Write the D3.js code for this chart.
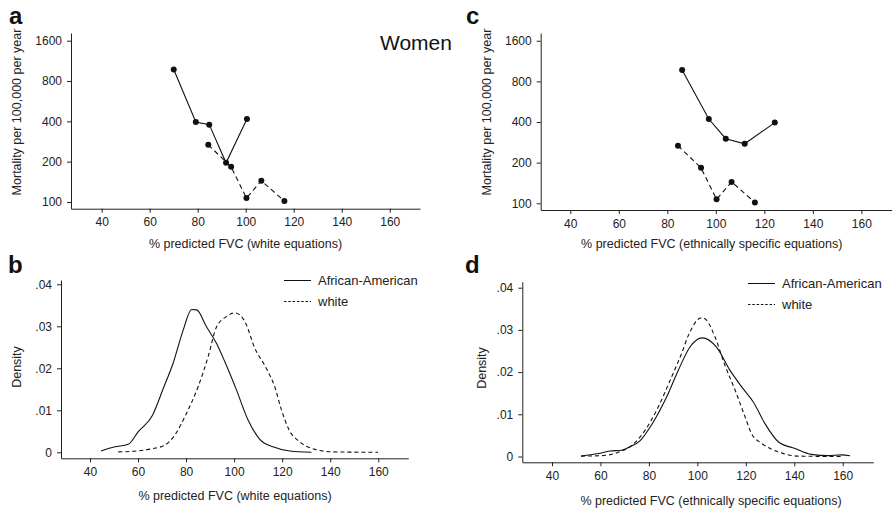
<!DOCTYPE html>
<html>
<head>
<meta charset="utf-8">
<script src="https://cdn.jsdelivr.net/npm/d3@7"></script>
<style>
  body { margin: 0; background: #fff; }
  svg { display: block; font-family: "Liberation Sans", Arial, Helvetica, sans-serif; }
  .axis path, .axis line { stroke: #222; stroke-width: 1; }
  .axis text { font-size: 12px; fill: #222; }
</style>
</head>
<body>
<svg id="chart" width="895" height="509"></svg>
<script>
// mortality panels (a, c): x = % predicted FVC, y = deaths per 100,000 per year
const aaWhiteEqX = [70, 79.2, 84.8, 91.8, 100.5];
const aaWhiteEqY = [975, 395, 378, 196, 416];
const aaEthnicX = [86.1, 97.1, 104.1, 111.9, 124.3];
const aaEthnicY = [970, 421, 301, 276, 396];
const whiteX = [84.4, 93.9, 100.3, 106.5, 116.1];
const whiteY = [267, 183, 107, 144, 101.5];

const mortTicks = [100, 200, 400, 800, 1600];
const fvcTicks = [40, 60, 80, 100, 120, 140, 160];
const densTicks = [0, 0.01, 0.02, 0.03, 0.04];
const densTickLabels = ['0', '.01', '.02', '.03', '.04'];

// density panel b (white equations)
const bAAx = [44.6, 50.4, 55.9, 60.1, 66.1, 70.5, 74.6, 78.8, 82.3, 84.4, 88.5, 92.7, 96.1, 101.0, 105.8, 110.7, 116.2, 123.2, 132.2];
const bAAy = [0.0003, 0.0013, 0.0019, 0.0049, 0.0089, 0.0152, 0.0212, 0.0291, 0.0340, 0.0339, 0.0299, 0.0259, 0.0216, 0.0148, 0.0077, 0.0031, 0.0013, 0.0003, 0.0000];
const bWx = [51.8, 59.4, 66.3, 71.2, 75.3, 80.2, 85.0, 89.2, 92.7, 96.8, 100.3, 104.5, 108.6, 113.4, 116.9, 119.7, 122.9, 127.3, 133.6, 141.2, 159.9];
const bWy = [0.0001, 0.0003, 0.0009, 0.0017, 0.0041, 0.0093, 0.0156, 0.0228, 0.0299, 0.0323, 0.0332, 0.0311, 0.0248, 0.0200, 0.0156, 0.0101, 0.0053, 0.0025, 0.0007, 0.0001, 0.0000];

// density panel d (ethnically specific equations)
const dAAx = [52.0, 59.1, 63.9, 68.8, 72.2, 76.3, 81.2, 87.3, 92.1, 96.9, 102.0, 107.9, 113.5, 118.3, 123.1, 127.9, 133.4, 140.3, 147.1, 154.0, 159.6, 163.0];
const dAAy = [0.0001, 0.0007, 0.0013, 0.0015, 0.0023, 0.0037, 0.0076, 0.0141, 0.0204, 0.0259, 0.0281, 0.0259, 0.0204, 0.0165, 0.0129, 0.0078, 0.0035, 0.0019, 0.0005, 0.0002, 0.0004, 0.0002];
const dWx = [52.0, 60.5, 67.4, 72.9, 78.4, 83.9, 89.4, 93.5, 96.3, 101.8, 103.8, 107.3, 111.4, 115.6, 119.7, 122.4, 126.6, 133.4, 141.7, 159.6];
const dWy = [0.0001, 0.0002, 0.0010, 0.0026, 0.0062, 0.0118, 0.0189, 0.0244, 0.0287, 0.0329, 0.0323, 0.0283, 0.0216, 0.0157, 0.0094, 0.0054, 0.0031, 0.0011, 0.0001, 0.0000];

const svg = d3.select('#chart');
const zip = (xs, ys) => xs.map((x, i) => [x, ys[i]]);

function xAxisTitle(cx, y, text) {
  svg.append('text').attr('x', cx).attr('y', y)
    .attr('text-anchor', 'middle').attr('font-size', 12.5).attr('fill', '#222')
    .text(text);
}

function yAxisTitle(cx, cy, text) {
  svg.append('text')
    .attr('transform', `translate(${cx},${cy}) rotate(-90)`)
    .attr('text-anchor', 'middle').attr('dy', '0.35em')
    .attr('font-size', 12.5).attr('fill', '#222')
    .text(text);
}

function panelLetter(x, y, t) {
  svg.append('text').attr('x', x).attr('y', y)
    .attr('font-size', 24).attr('font-weight', 'bold').attr('fill', '#111')
    .text(t);
}

function drawAxes(x, y, yTicks, yFmt) {
  const [x0] = x.range();
  const [y0] = y.range();
  svg.append('g').attr('class', 'axis')
    .attr('transform', `translate(0,${y0})`)
    .call(d3.axisBottom(x).tickValues(fvcTicks).tickSize(4).tickPadding(5).tickSizeOuter(0).tickFormat(d3.format('d')));
  svg.append('g').attr('class', 'axis')
    .attr('transform', `translate(${x0},0)`)
    .call(d3.axisLeft(y).tickValues(yTicks).tickSize(4).tickPadding(5).tickSizeOuter(0).tickFormat(yFmt));
}

function mortalityPanel(opt) {
  const x = d3.scaleLinear().domain(opt.xd).range(opt.xr);
  const y = d3.scaleLog().base(2).domain(opt.yd).range(opt.yr);
  drawAxes(x, y, mortTicks, d3.format('d'));
  const line = d3.line().x(d => x(d[0])).y(d => y(d[1]));
  opt.series.forEach(s => {
    const pts = zip(s.xs, s.ys);
    svg.append('path').datum(pts).attr('d', line)
      .attr('fill', 'none').attr('stroke', '#111').attr('stroke-width', 1.1)
      .attr('stroke-dasharray', s.dash || null);
    svg.append('g').selectAll('circle').data(pts).join('circle')
      .attr('cx', d => x(d[0])).attr('cy', d => y(d[1])).attr('r', 3)
      .attr('fill', '#111');
  });
}

function densityPanel(opt) {
  const x = d3.scaleLinear().domain(opt.xd).range(opt.xr);
  const y = d3.scaleLinear().domain(opt.yd).range(opt.yr);
  drawAxes(x, y, densTicks, (d, i) => densTickLabels[i]);
  const line = d3.line().x(d => x(d[0])).y(d => y(d[1])).curve(d3.curveMonotoneX);
  opt.series.forEach(s => {
    svg.append('path').datum(zip(s.xs, s.ys)).attr('d', line)
      .attr('fill', 'none').attr('stroke', '#111').attr('stroke-width', 1.1)
      .attr('stroke-dasharray', s.dash || null);
  });
  // legend
  const lg = svg.append('g').attr('transform', `translate(${opt.legend[0]},${opt.legend[1]})`);
  [['African-American', null], ['white', '2.5,1.8']].forEach((d, i) => {
    lg.append('line').attr('x1', 0).attr('x2', 27).attr('y1', i * 21).attr('y2', i * 21)
      .attr('stroke', '#111').attr('stroke-width', 1).attr('stroke-dasharray', d[1]);
    lg.append('text').attr('x', 34).attr('y', i * 21).attr('dy', '0.35em')
      .attr('font-size', 13).attr('fill', '#222').text(d[0]);
  });
}

// a
mortalityPanel({
  xd: [27.2, 172.6], xr: [71, 420],
  yd: [89.1, 1827], yr: [208.7, 33],
  series: [{ xs: aaWhiteEqX, ys: aaWhiteEqY }, { xs: whiteX, ys: whiteY, dash: '5,3.5' }]
});
panelLetter(9, 24, 'a');
yAxisTitle(17, 112, 'Mortality per 100,000 per year');
xAxisTitle(245.5, 248, '% predicted FVC (white equations)');
svg.append('text').attr('x', 380).attr('y', 50).attr('font-size', 21).attr('fill', '#111').text('Women');

// c
mortalityPanel({
  xd: [27.8, 172.5], xr: [540.7, 891.7],
  yd: [89.2, 1826], yr: [210, 33],
  series: [{ xs: aaEthnicX, ys: aaEthnicY }, { xs: whiteX, ys: whiteY, dash: '5,3.5' }]
});
panelLetter(466, 24, 'c');
yAxisTitle(487, 112, 'Mortality per 100,000 per year');
xAxisTitle(711.7, 248, '% predicted FVC (ethnically specific equations)');

// b
densityPanel({
  xd: [27.94, 172.5], xr: [61, 408.3],
  yd: [-0.00143, 0.04102], yr: [458.3, 280],
  series: [{ xs: bAAx, ys: bAAy }, { xs: bWx, ys: bWy, dash: '4,3' }],
  legend: [284, 280.5]
});
panelLetter(8, 273, 'b');
yAxisTitle(17, 367, 'Density');
xAxisTitle(235, 500, '% predicted FVC (white equations)');

// d
densityPanel({
  xd: [27.74, 172.63], xr: [522.3, 873.3],
  yd: [-0.00137, 0.04142], yr: [462.3, 281.7],
  series: [{ xs: dAAx, ys: dAAy }, { xs: dWx, ys: dWy, dash: '4,3' }],
  legend: [748, 283.5]
});
panelLetter(465, 273, 'd');
yAxisTitle(482, 368, 'Density');
xAxisTitle(711, 505, '% predicted FVC (ethnically specific equations)');
</script>
</body>
</html>
